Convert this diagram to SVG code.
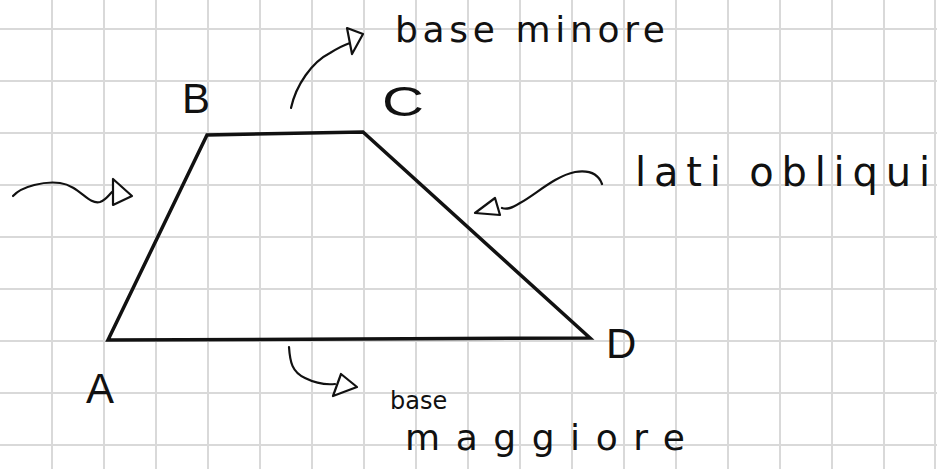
<svg xmlns="http://www.w3.org/2000/svg" width="937" height="469" viewBox="0 0 937 469">
<defs>
<style>
.grid line{stroke:#d9d9d9;stroke-width:2}
.shape{fill:none;stroke:#111;stroke-width:3.5;stroke-linejoin:miter}
.arc{fill:none;stroke:#111;stroke-width:2.2;stroke-linecap:round;stroke-linejoin:round}
.head{fill:#fff;stroke:#111;stroke-width:2.2;stroke-linejoin:round}
.v{font-family:"Liberation Sans","DejaVu Sans",sans-serif;font-size:42px;fill:#111}
.t{font-family:"DejaVu Sans","Liberation Sans",sans-serif;font-size:36px;fill:#111}
</style>
</defs>
<rect width="937" height="469" fill="#fff"/>
<g class="grid" id="grid">
<line x1="52" y1="0" x2="52" y2="469"/><line x1="104" y1="0" x2="104" y2="469"/><line x1="156" y1="0" x2="156" y2="469"/><line x1="208" y1="0" x2="208" y2="469"/><line x1="260" y1="0" x2="260" y2="469"/><line x1="312" y1="0" x2="312" y2="469"/><line x1="364" y1="0" x2="364" y2="469"/><line x1="416" y1="0" x2="416" y2="469"/><line x1="468" y1="0" x2="468" y2="469"/><line x1="520" y1="0" x2="520" y2="469"/><line x1="572" y1="0" x2="572" y2="469"/><line x1="624" y1="0" x2="624" y2="469"/><line x1="676" y1="0" x2="676" y2="469"/><line x1="728" y1="0" x2="728" y2="469"/><line x1="780" y1="0" x2="780" y2="469"/><line x1="832" y1="0" x2="832" y2="469"/><line x1="884" y1="0" x2="884" y2="469"/><line x1="935" y1="0" x2="935" y2="469"/>
<line x1="0" y1="29" x2="937" y2="29"/><line x1="0" y1="81" x2="937" y2="81"/><line x1="0" y1="133" x2="937" y2="133"/><line x1="0" y1="185" x2="937" y2="185"/><line x1="0" y1="237" x2="937" y2="237"/><line x1="0" y1="289" x2="937" y2="289"/><line x1="0" y1="341" x2="937" y2="341"/><line x1="0" y1="393" x2="937" y2="393"/><line x1="0" y1="445" x2="937" y2="445"/>
</g>
<g id="trapezoid">
<polygon class="shape" points="108,340 207,135 363,132 590,338"/>
</g>
<g id="vertex-A"><text class="v" x="86" y="403">A</text></g>
<g id="vertex-B"><text class="v" x="182" y="113">B</text></g>
<g id="vertex-C"><text class="v" x="382" y="116" textLength="42" lengthAdjust="spacingAndGlyphs">C</text></g>
<g id="vertex-D"><text class="v" x="606" y="358">D</text></g>
<g id="label-base-minore"><text class="t" x="395" y="42" textLength="270" lengthAdjust="spacing">base minore</text></g>
<g id="label-lati-obliqui"><text class="t" x="635" y="186" style="font-size:40px" textLength="295" lengthAdjust="spacing">lati obliqui</text></g>
<g id="label-base-maggiore">
<text class="t" x="390" y="409" style="font-size:24px">base</text>
<text class="t" x="405" y="450" textLength="280" lengthAdjust="spacing">maggiore</text>
</g>
<g id="connectors">
<path class="arc" d="M291,108 C296,85 312,62 330,53 C338,48 344,45 350,43"/>
<polygon class="head" points="347,28 363,34 352,54"/>
<path class="arc" d="M13,196 C22,186 45,181 60,183 C80,186 88,205 100,202 C106,200 108,196 112,192"/>
<polygon class="head" points="113,179 113,205 132,196"/>
<path class="arc" d="M602,184 C598,173 588,170 575,172 C555,176 535,195 520,203 C512,208 507,210 502,208"/>
<polygon class="head" points="475,213 495,198 500,215"/>
<path class="arc" d="M289,347 C290,362 292,372 305,378 C315,383 325,385 335,384"/>
<polygon class="head" points="333,396 341,374 357,387"/>
</g>
</svg>
